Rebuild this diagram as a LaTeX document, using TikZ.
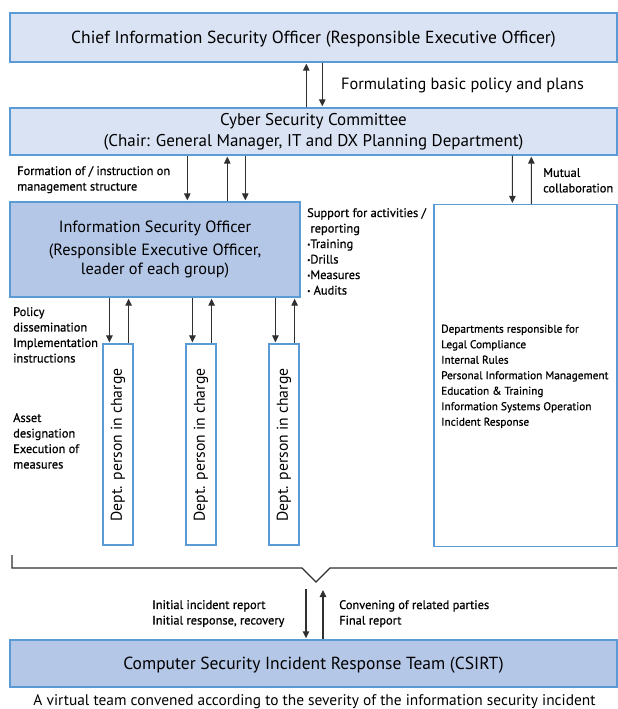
\documentclass[tikz,border=0pt]{standalone}
\usepackage{fontspec}
\setmainfont{PT Sans}
\newfontfamily\semifont{PT Sans}[FakeBold=0.7]
\usetikzlibrary{arrows.meta,calc}
\definecolor{lightfill}{HTML}{DAE3F3}
\definecolor{darkfill}{HTML}{B4C7E7}
\definecolor{boxline}{HTML}{5B9BD5}
\definecolor{arrline}{HTML}{303030}
\newcommand{\bul}{\raisebox{1.2pt}{\scriptsize\textbullet}}
\tikzset{
  lightbox/.style={draw=boxline, line width=1.4pt, fill=lightfill, inner sep=0pt, align=center},
  darkbox/.style={draw=boxline, line width=1.4pt, fill=darkfill, inner sep=0pt, align=center},
  whitebox/.style={draw=boxline, line width=1.2pt, fill=white, inner sep=0pt},
  arr/.style={draw=arrline, line width=1.1pt, -{Triangle[width=6.5pt,length=7pt]}, shorten >=1pt},
  smalltxt/.style={font=\semifont\fontsize{12.4}{15.5}\selectfont, align=left, inner sep=0pt},
  listtxt/.style={font=\semifont\fontsize{11.3}{15.5}\selectfont, align=left, inner sep=0pt},
}
\begin{document}
\begin{tikzpicture}[x=1pt,y=-1pt]
\useasboundingbox (0,0) rectangle (618,709);
% boxes
\node[lightbox, font=\fontsize{17.5}{20}\selectfont, minimum width=607pt, minimum height=49pt,
  text height=12pt, text depth=0pt] (ciso) at (313.5,37.5)
  {Chief Information Security Officer (Responsible Executive Officer)};
\node[lightbox, minimum width=607pt, minimum height=47pt,
  font=\fontsize{17}{21}\selectfont] (csc) at (313.5,131.5)
  {Cyber Security Committee\\(Chair: General Manager, IT and DX Planning Department)};
\node[darkbox, minimum width=290pt, minimum height=95pt,
  font=\fontsize{16.3}{19}\selectfont] (iso) at (155,249.5)
  {Information Security Officer\\[4pt](Responsible Executive Officer,\\leader of each group)};
\node[whitebox, minimum width=183pt, minimum height=342pt] (dep) at (525.5,375.5) {};
\node[listtxt, anchor=north west] (deptxt) at (441,324.5)
  {Departments responsible for\\Legal Compliance\\Internal Rules\\Personal Information Management\\Education \& Training\\Information Systems Operation\\Incident Response};
\foreach \n/\cx in {d1/118, d2/201, d3/284}{
  \node[whitebox, minimum width=30pt, minimum height=201pt] (\n) at (\cx,444.5) {};
  \node[rotate=90, font=\fontsize{15.7}{18}\selectfont, inner sep=0pt] (\n t) at (\cx,445) {Dept. person in charge};
}
\node[darkbox, font=\fontsize{17.5}{20}\selectfont, minimum width=607pt, minimum height=47pt,
  text height=12pt, text depth=0pt] (csirt) at (313.5,663.5)
  {Computer Security Incident Response Team (CSIRT)};
\node[font=\fontsize{15.4}{18}\selectfont, inner sep=0pt] (virt) at (314.5,702)
  {A virtual team convened according to the severity of the information security incident};
% labels
\node[font=\fontsize{16.3}{19}\selectfont, anchor=west, inner sep=0pt] (lform) at (341,85)
  {Formulating basic policy and plans};
\node[smalltxt, anchor=north west] (lmgmt) at (17,166)
  {Formation of / instruction on\\management structure};
\node[smalltxt, anchor=north west] (lsupp) at (307,208)
  {Support for activities /\\\ reporting\\\bul Training\\\bul Drills\\\bul Measures\\\bul\ Audits};
\node[smalltxt, anchor=north west] (lmut) at (543,168)
  {Mutual\\collaboration};
\node[smalltxt, anchor=north west] (lpol) at (13,307)
  {Policy\\dissemination\\Implementation\\instructions};
\node[smalltxt, anchor=north west] (lasset) at (13,413)
  {Asset\\designation\\Execution of\\measures};
\node[smalltxt, anchor=north west] (linit) at (152,600)
  {Initial incident report\\Initial response, recovery};
\node[smalltxt, anchor=north west] (lconv) at (339,600)
  {Convening of related parties\\Final report};
% arrows ciso <-> csc
\draw[arr] ([xshift=297pt]csc.north west) -- ([xshift=297pt]ciso.south west);
\draw[arr] ([xshift=313pt]ciso.south west) -- ([xshift=313pt]csc.north west);
% csc <-> iso
\draw[arr] ([xshift=178pt]csc.south west) -- ([xshift=178pt]iso.north west);
\draw[arr] ([xshift=218pt]iso.north west) -- ([xshift=218pt]csc.south west);
\draw[arr] ([xshift=236pt]csc.south west) -- ([xshift=236pt]iso.north west);
% csc <-> dep
\draw[arr] ([xshift=503pt]csc.south west) -- ([xshift=79pt]dep.north west);
\draw[arr] ([xshift=98pt]dep.north west) -- ([xshift=522pt]csc.south west);
% iso <-> dept persons
\foreach \n in {d1,d2,d3}{
  \coordinate (\n a) at ([xshift=7pt]\n.north west);
  \coordinate (\n b) at ([xshift=-5pt]\n.north east);
  \draw[arr] (\n a |- iso.south) -- (\n a);
  \draw[arr] (\n b) -- (\n b |- iso.south);
}
% bracket
\coordinate (bl) at (12,555);
\coordinate (btip) at (316,582);
\draw[draw=arrline, line width=1.1pt] (bl) -- (12,568) -- (302,568) -- (btip) -- (330,568) -- (617,568);
\coordinate (bdown) at (306,589);
\coordinate (bup) at (323,589);
\draw[arr] (bdown) -- (csirt.north -| bdown);
\draw[arr] (csirt.north -| bup) -- (bup);
\end{tikzpicture}
\end{document}
